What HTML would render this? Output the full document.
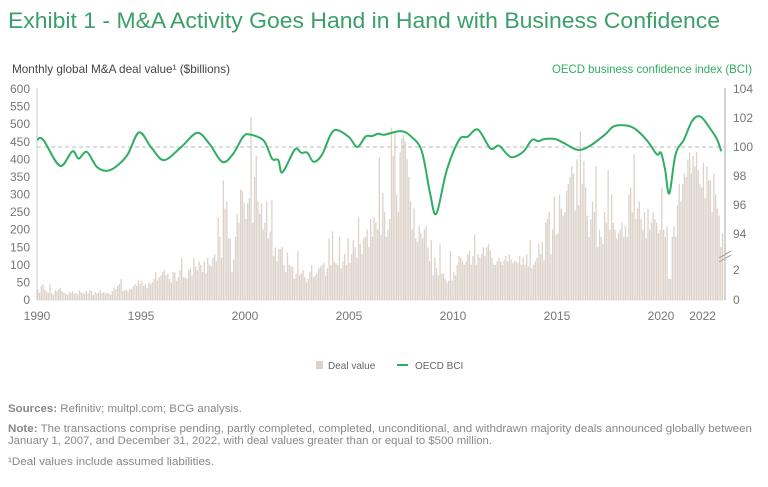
<!DOCTYPE html>
<html><head><meta charset="utf-8"><style>
html,body{margin:0;padding:0;background:#fff;}
svg{display:block;font-family:"Liberation Sans",sans-serif;}
</style></head><body>
<svg id="chart" width="768" height="487" viewBox="0 0 768 487" xmlns="http://www.w3.org/2000/svg">
<text x="8" y="28" font-size="22" fill="#3a9f68" textLength="712" lengthAdjust="spacingAndGlyphs">Exhibit 1 - M&amp;A Activity Goes Hand in Hand with Business Confidence</text>
<text x="12" y="73" font-size="12" fill="#444" textLength="218" lengthAdjust="spacingAndGlyphs">Monthly global M&amp;A deal value¹ ($billions)</text>
<text x="752" y="73" font-size="12" fill="#2fae62" text-anchor="end" textLength="200" lengthAdjust="spacingAndGlyphs">OECD business confidence index (BCI)</text>
<g id="bars"></g>
<g id="axes"></g>
<g id="line"></g>
<g>
<rect x="316" y="361" width="7" height="8" fill="#dcd2c9"/>
<text x="328" y="369" font-size="10" fill="#666">Deal value</text>
<line x1="397" y1="365" x2="408" y2="365" stroke="#2fae62" stroke-width="2"/>
<text x="415" y="369" font-size="10" fill="#666">OECD BCI</text>
</g>
<g font-size="11" fill="#888">
<text x="8" y="412" textLength="234" lengthAdjust="spacingAndGlyphs"><tspan font-weight="bold">Sources:</tspan> Refinitiv; multpl.com; BCG analysis.</text>
<text x="8" y="432" textLength="744" lengthAdjust="spacingAndGlyphs"><tspan font-weight="bold">Note:</tspan> The transactions comprise pending, partly completed, completed, unconditional, and withdrawn majority deals announced globally between</text>
<text x="8" y="444" textLength="484" lengthAdjust="spacingAndGlyphs">January 1, 2007, and December 31, 2022, with deal values greater than or equal to $500 million.</text>
<text x="8" y="465" textLength="206" lengthAdjust="spacingAndGlyphs">¹Deal values include assumed liabilities.</text>
</g>
</svg>
<script>
const startYear = 1990;
const dealValues = [
30,20,40,45,30,25,20,45,20,15,28,25,
30,35,25,20,18,15,22,20,25,18,20,15,
28,22,20,18,25,20,28,25,15,22,18,20,
28,20,22,18,20,18,15,25,35,30,40,45,
60,25,28,30,25,32,30,38,45,40,55,45,
55,40,45,35,50,45,50,60,80,55,65,70,
80,85,70,75,60,50,80,78,55,65,85,120,
65,65,60,85,90,70,120,95,85,110,100,80,
110,75,120,100,95,120,130,110,235,180,120,340,
260,280,175,175,80,115,180,245,220,315,310,275,
230,275,290,520,220,350,410,280,245,275,200,220,
280,175,195,285,125,150,110,145,145,150,100,80,
135,100,95,95,60,75,140,70,75,85,65,50,
60,80,100,65,70,75,90,95,100,105,70,90,
175,100,195,110,105,100,180,90,110,130,100,175,
105,130,170,150,120,235,160,130,175,180,200,150,
230,180,235,220,200,405,185,305,250,180,200,230,
490,410,480,300,250,420,460,470,450,400,350,280,
200,260,175,165,210,190,175,200,210,150,110,170,
70,120,90,70,160,75,75,60,50,55,140,55,
80,70,100,125,120,110,100,110,130,140,100,125,
185,100,130,120,130,150,125,150,160,140,120,100,
100,110,120,110,100,115,125,110,130,115,105,110,
110,105,125,100,120,100,130,95,170,90,100,110,
120,160,130,165,115,220,230,250,130,200,295,185,
190,300,260,240,250,310,330,350,380,360,255,400,
270,480,330,395,320,240,180,230,280,250,380,150,
200,180,160,250,220,370,200,300,220,200,175,190,
200,220,180,210,180,300,320,250,415,230,260,280,
230,200,250,175,260,200,220,250,230,220,190,200,
320,200,180,210,60,60,180,210,180,270,330,280,
330,360,350,400,420,360,410,380,420,370,330,320,
390,290,380,340,340,250,360,300,260,240,150,190];
const bciDates = [1990.0,1990.3,1991.1,1991.7,1992.0,1992.4,1992.9,1993.5,1994.3,1994.9,1995.5,1996.1,1996.9,1997.7,1998.3,1998.9,1999.4,1999.9,2000.2,2000.9,2001.3,2001.6,2001.8,2002.4,2002.7,2003.0,2003.3,2003.7,2004.1,2004.4,2005.0,2005.4,2005.8,2006.1,2006.4,2006.7,2007.5,2008.0,2008.5,2008.9,2009.2,2009.7,2010.3,2010.7,2011.2,2011.8,2012.2,2012.6,2012.9,2013.4,2013.8,2014.1,2014.4,2014.9,2015.3,2016.0,2016.6,2017.3,2017.7,2018.2,2018.7,2019.3,2019.8,2020.0,2020.2,2020.4,2020.7,2021.1,2021.5,2021.9,2022.4,2022.7,2022.9];
const bciValues = [100.5,100.5,98.7,99.7,99.2,99.66,98.6,98.4,99.35,101.0,99.95,99.1,99.95,100.97,100.2,98.98,99.47,100.68,100.87,100.44,99.2,99.1,98.25,99.83,99.6,99.6,98.98,99.47,100.8,101.17,100.68,100.0,100.73,100.75,100.92,100.85,101.1,100.7,99.7,96.8,95.4,98.4,100.5,100.7,101.2,99.9,100.1,99.5,99.3,99.7,100.5,100.4,100.55,100.55,100.3,99.8,100.1,100.85,101.4,101.5,101.3,100.5,99.5,99.6,98.4,96.8,99.5,100.5,101.8,102.1,101.2,100.5,99.7];
const leftTicks = [0,50,100,150,200,250,300,350,400,450,500,550,600];
const rightTicksTop = [94,96,98,100,102,104];
const rightTicksBottom = [0,2];
const xTickLabels = [1990,1995,2000,2005,2010,2015,2020,2022];

const NS='http://www.w3.org/2000/svg';
const X0=37, PXY=20.8, Y0=300, YTOP=89;
const xs = t => X0 + (t-startYear)*PXY;
const yl = v => Y0 - v*(Y0-YTOP)/600;
const yr = v => 147 - (v-100)*14.5;
const yrb = v => Y0 - v*15;
function mk(tag, attrs, parent){const e=document.createElementNS(NS,tag);for(const k in attrs)e.setAttribute(k,attrs[k]);parent.appendChild(e);return e;}
const bars=document.getElementById('bars'), axes=document.getElementById('axes'), line=document.getElementById('line');

dealValues.forEach((v,i)=>{
  const x = xs(startYear + (i+0.5)/12);
  const r = mk('rect',{x:(x-0.65).toFixed(2),y:yl(v).toFixed(2),width:1.3,height:(Y0-yl(v)).toFixed(2),fill:'#dcd2c9'},bars);
  
  
});
let a=mk('line',{x1:X0,y1:88,x2:X0,y2:Y0,stroke:'#ccc','stroke-width':1},axes);


a=mk('line',{x1:X0,y1:Y0,x2:725,y2:Y0,stroke:'#ddd','stroke-width':1},axes);


a=mk('line',{x1:725,y1:88,x2:725,y2:Y0,stroke:'#aaa','stroke-width':1},axes);


a=mk('line',{x1:X0,y1:147,x2:725,y2:147,stroke:'#bbb','stroke-width':1,'stroke-dasharray':'4,3'},axes);


a=mk('path',{d:'M719,258 L731,251 M719,262 L731,255',stroke:'#999','stroke-width':1,fill:'none'},axes);


leftTicks.forEach(v=>{const t=mk('text',{x:30,y:yl(v)+4,'font-size':12,fill:'#777','text-anchor':'end'},axes);t.textContent=v;
  
  });
rightTicksTop.forEach(v=>{const t=mk('text',{x:733,y:yr(v)+4,'font-size':12,fill:'#777'},axes);t.textContent=v;
  
  });
rightTicksBottom.forEach(v=>{const t=mk('text',{x:733,y:yrb(v)+4,'font-size':12,fill:'#777'},axes);t.textContent=v;
  
  });
xTickLabels.forEach(v=>{const t=mk('text',{x:xs(v),y:320,'font-size':12,fill:'#777','text-anchor':'middle'},axes);t.textContent=v;
  
  });
const P=bciDates.map((d,i)=>[xs(d),yr(bciValues[i])]);
let d='M'+P[0][0].toFixed(1)+','+P[0][1].toFixed(1);
for(let i=0;i<P.length-1;i++){
  const p0=P[Math.max(0,i-1)],p1=P[i],p2=P[i+1],p3=P[Math.min(P.length-1,i+2)];
  const c1=[p1[0]+(p2[0]-p0[0])/6,p1[1]+(p2[1]-p0[1])/6];
  const c2=[p2[0]-(p3[0]-p1[0])/6,p2[1]-(p3[1]-p1[1])/6];
  d+=` C${c1[0].toFixed(1)},${c1[1].toFixed(1)} ${c2[0].toFixed(1)},${c2[1].toFixed(1)} ${p2[0].toFixed(1)},${p2[1].toFixed(1)}`;
}
const pl=mk('path',{d:d,fill:'none',stroke:'#2fae62','stroke-width':2,'stroke-linejoin':'round'},line);


</script>
</body></html>
